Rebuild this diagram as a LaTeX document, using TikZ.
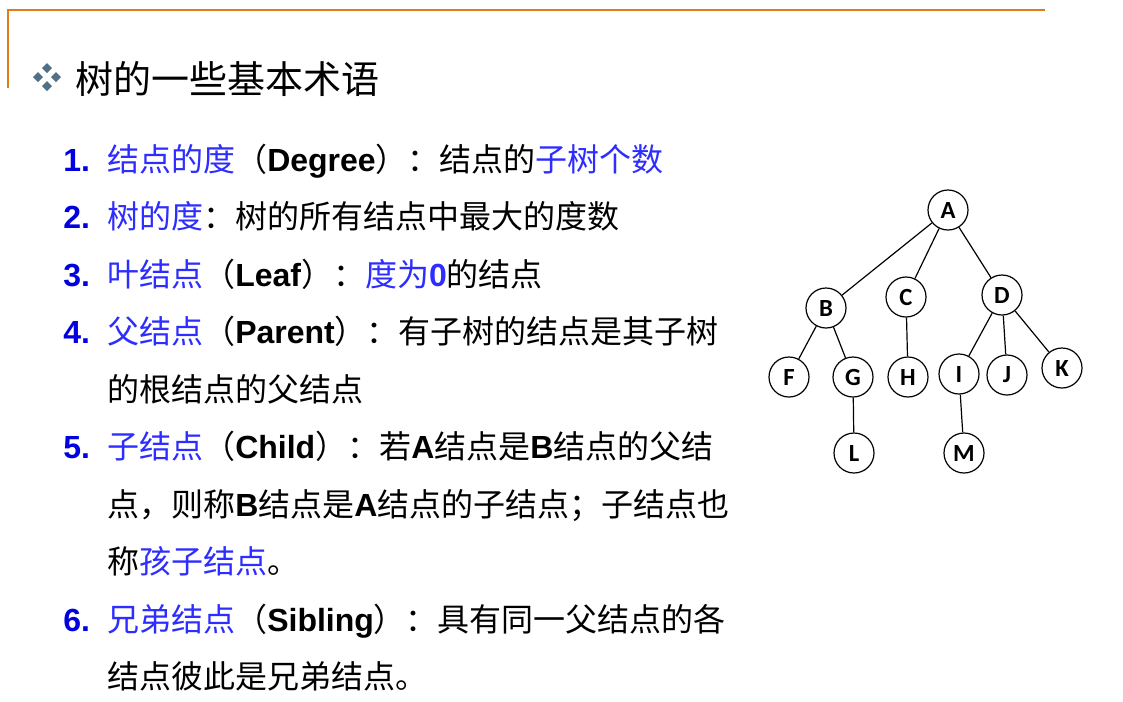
\documentclass[tikz,border=0pt]{standalone}
\usepackage{fontspec}
\setmainfont{Noto Sans CJK SC}
\newfontfamily\latfont{Liberation Sans}
\newfontfamily\nodefont{Carlito}

\definecolor{framec}{RGB}{224,123,26}
\definecolor{bulletc}{RGB}{80,112,133}
\definecolor{numblue}{RGB}{0,0,225}
\definecolor{termblue}{RGB}{45,45,255}

\newcommand{\en}[1]{{\latfont\bfseries #1}}
\newcommand{\hl}[1]{\textcolor{termblue}{#1}}

\begin{document}
\begin{tikzpicture}[x=0.75pt,y=-0.75pt]

\tikzset{vertex/.style={draw,circle,line width=0.9pt,minimum size=30pt,inner sep=0pt,
  font=\nodefont\bfseries\fontsize{18.5}{18.5}\selectfont}}
\tikzset{edge/.style={line width=0.9pt}}
\tikzset{item/.style={anchor=base west,inner sep=0pt,font=\fontsize{24}{24}\selectfont}}
\tikzset{num/.style={anchor=base west,inner sep=0pt,text=numblue,
  font=\latfont\bfseries\fontsize{24}{24}\selectfont}}

\useasboundingbox (0,0) rectangle (1123,701);

%frame
\draw[framec,line width=1.8pt] (8,88)--(8,10)--(1045,10);

%bullet
\foreach \dx/\dy in {0/-9,-9/0,9/0,0/9}
  \fill[bulletc] (47+\dx,77+\dy) +(0,-5)--+(5,0)--+(0,5)--+(-5,0)--cycle;

%title
\node[anchor=base west,inner sep=0pt,font=\fontsize{28.5}{28.5}\selectfont] (title) at (75,93) {树的一些基本术语};

%item 1
\node[num] (n1) at (63,171) {1.};
\node[item] (t1) at (107,171) {\hl{结点的度}（\en{Degree}）：结点的\hl{子树个数}};

%item 2
\node[num] (n2) at (63,228.5) {2.};
\node[item] (t2) at (107,228.5) {\hl{树的度}：树的所有结点中最大的度数};

%item 3
\node[num] (n3) at (63,286) {3.};
\node[item] (t3) at (107,286) {\hl{叶结点}（\en{Leaf}）：\hl{度为\en{0}}的结点};

%item 4
\node[num] (n4) at (63,343.5) {4.};
\node[item] (t4) at (107,343.5) {\hl{父结点}（\en{Parent}）：有子树的结点是其子树};
\node[item] (t4b) at (107,401) {的根结点的父结点};

%item 5
\node[num] (n5) at (63,458.5) {5.};
\node[item] (t5) at (107,458.5) {\hl{子结点}（\en{Child}）：若\en{A}结点是\en{B}结点的父结};
\node[item] (t5b) at (107,516) {点，则称\en{B}结点是\en{A}结点的子结点；子结点也};
\node[item] (t5c) at (107,573.5) {称\hl{孩子结点}。};

%item 6
\node[num] (n6) at (63,631) {6.};
\node[item] (t6) at (107,631) {\hl{兄弟结点}（\en{Sibling}）：具有同一父结点的各};
\node[item] (t6b) at (107,688.5) {结点彼此是兄弟结点。};

%tree
\node[vertex] (A) at (948,210) {A};
\node[vertex] (B) at (826,308) {B};
\node[vertex] (C) at (906,297) {C};
\node[vertex] (D) at (1002,295) {D};
\node[vertex] (F) at (789,377) {F};
\node[vertex] (G) at (853,377) {G};
\node[vertex] (H) at (908,377) {H};
\node[vertex] (I) at (959,374) {I};
\node[vertex] (J) at (1007,375) {J};
\node[vertex] (K) at (1062,368) {K};
\node[vertex] (L) at (854,453) {L};
\node[vertex] (M) at (964,453) {M};

%tree edges
\draw[edge] (A)--(B);
\draw[edge] (A)--(C);
\draw[edge] (A)--(D);
\draw[edge] (B)--(F);
\draw[edge] (B)--(G);
\draw[edge] (C)--(H);
\draw[edge] (D)--(I);
\draw[edge] (D)--(J);
\draw[edge] (D)--(K);
\draw[edge] (G)--(L);
\draw[edge] (I)--(M);

\end{tikzpicture}
\end{document}
